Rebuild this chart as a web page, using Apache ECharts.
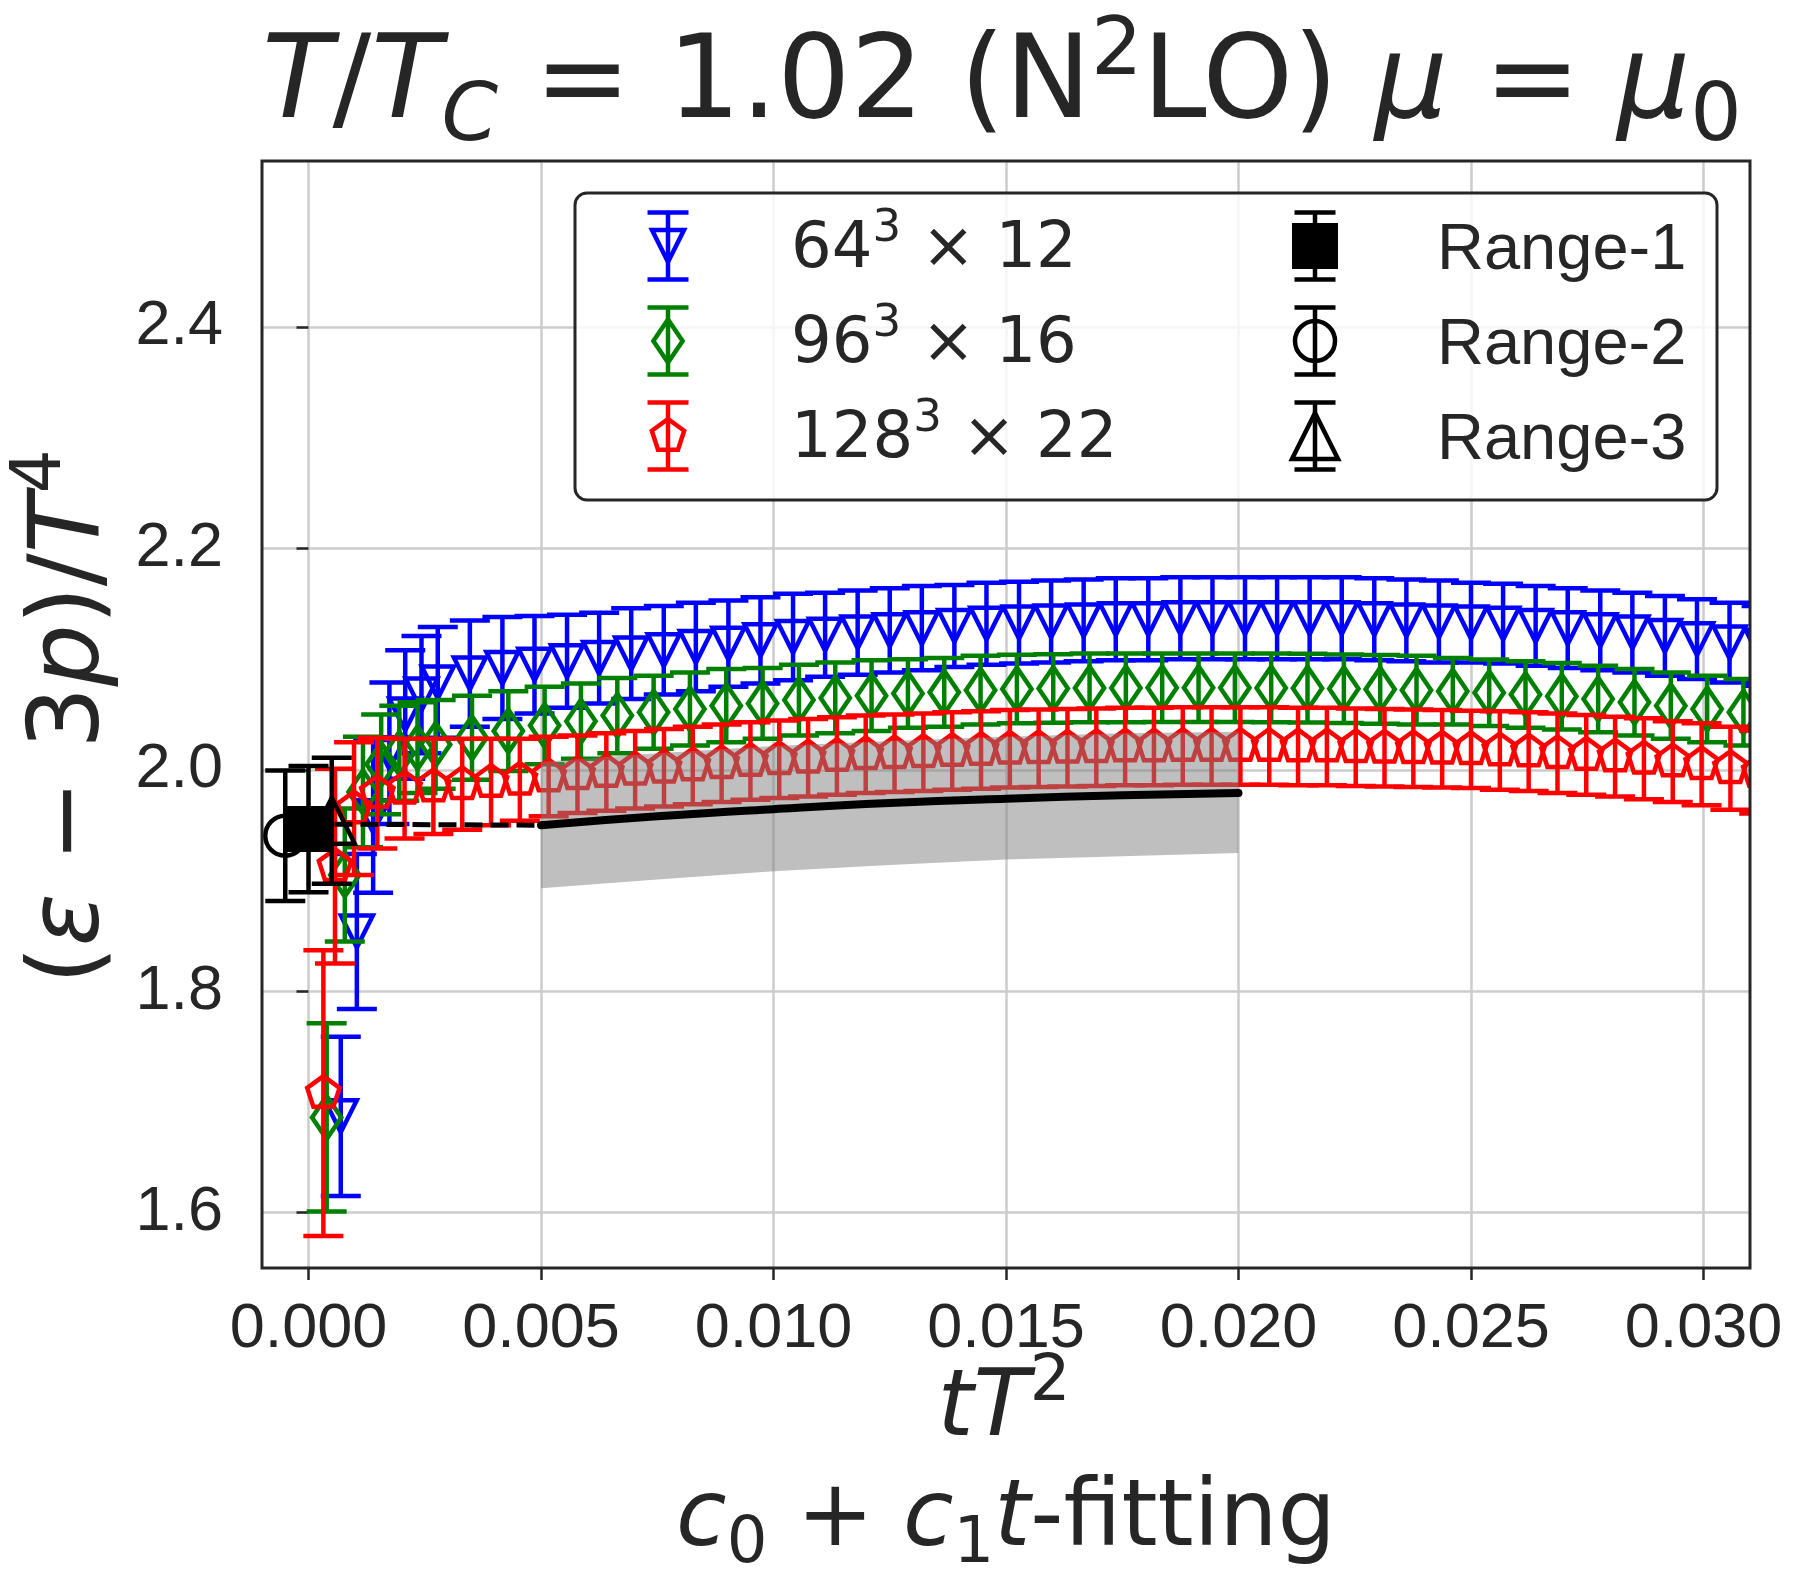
<!DOCTYPE html>
<html><head><meta charset="utf-8">
<script src="https://cdn.jsdelivr.net/npm/echarts@6/dist/echarts.min.js"></script>
<style>html,body{margin:0;padding:0;background:#fff}#chart{width:1803px;height:1589px}</style>
</head><body><div id="chart"></div>
<script>
// ---------------- data ----------------
const xTicks = [0.000, 0.005, 0.010, 0.015, 0.020, 0.025, 0.030];
const yTicks = [1.6, 1.8, 2.0, 2.2, 2.4];

// 64^3 x 12
const blueX = [0.000694, 0.00104, 0.00139, 0.00174, 0.00208, 0.00243, 0.00278,
  0.00347, 0.00417, 0.00486, 0.00556, 0.00625, 0.00694, 0.00764, 0.00833, 0.00903, 0.00972,
  0.01042, 0.01111, 0.01181, 0.01250, 0.01319, 0.01389, 0.01458, 0.01528, 0.01597, 0.01667,
  0.01736, 0.01806, 0.01875, 0.01944, 0.02014, 0.02083, 0.02153, 0.02222, 0.02292, 0.02361,
  0.02431, 0.02500, 0.02569, 0.02639, 0.02708, 0.02778, 0.02847, 0.02917, 0.02986, 0.03056, 0.03125];
const blueY = [1.687, 1.854, 1.958, 2.015, 2.050, 2.068, 2.079,
  2.087, 2.092, 2.095, 2.098, 2.101, 2.105, 2.108, 2.111, 2.114, 2.117,
  2.120, 2.122, 2.124, 2.126, 2.128, 2.130, 2.132, 2.133, 2.134, 2.135,
  2.136, 2.136, 2.137, 2.137, 2.137, 2.137, 2.137, 2.137, 2.136, 2.135,
  2.134, 2.133, 2.132, 2.130, 2.128, 2.126, 2.124, 2.121, 2.118, 2.115, 2.112];
const blueErr = [0.072, 0.070, 0.069, 0.064, 0.058, 0.053, 0.050,
  0.048, 0.046, 0.044, 0.042, 0.041, 0.041, 0.040, 0.040, 0.039, 0.039,
  0.039, 0.038, 0.038, 0.038, 0.038, 0.037, 0.037, 0.037, 0.037, 0.037,
  0.037, 0.037, 0.037, 0.037, 0.037, 0.037, 0.037, 0.037, 0.037, 0.037,
  0.037, 0.036, 0.036, 0.036, 0.036, 0.036, 0.036, 0.036, 0.036, 0.036, 0.036];

// 96^3 x 16
const greenX = [0.000391, 0.000781, 0.001172, 0.001563, 0.001953, 0.002344, 0.002734,
  0.003516, 0.004297, 0.005078, 0.005859, 0.006641, 0.007422, 0.008203, 0.008984, 0.009766,
  0.010547, 0.011328, 0.012109, 0.012891, 0.013672, 0.014453, 0.015234, 0.016016, 0.016797,
  0.017578, 0.018359, 0.019141, 0.019922, 0.020703, 0.021484, 0.022266, 0.023047, 0.023828,
  0.024609, 0.025391, 0.026172, 0.026953, 0.027734, 0.028516, 0.029297, 0.030078, 0.030859];
const greenY = [1.686, 1.905, 1.980, 2.005, 2.015, 2.020, 2.023,
  2.029, 2.035, 2.040, 2.044, 2.049, 2.052, 2.055, 2.058, 2.060,
  2.063, 2.065, 2.067, 2.069, 2.070, 2.072, 2.073, 2.0735, 2.074,
  2.074, 2.0742, 2.0742, 2.0742, 2.074, 2.0738, 2.0733, 2.0727, 2.072,
  2.071, 2.0697, 2.068, 2.0665, 2.064, 2.061, 2.058, 2.055, 2.052];
const greenErr = [0.085, 0.060, 0.050, 0.045, 0.043, 0.041, 0.040,
  0.038, 0.036, 0.035, 0.034, 0.034, 0.033, 0.033, 0.033, 0.032,
  0.032, 0.032, 0.032, 0.031, 0.031, 0.031, 0.031, 0.031, 0.031,
  0.031, 0.031, 0.031, 0.031, 0.031, 0.031, 0.031, 0.031, 0.031,
  0.030, 0.030, 0.030, 0.030, 0.030, 0.030, 0.030, 0.030, 0.030];

// 128^3 x 22
const redX = [0.00032, 0.00057, 0.00098, 0.00148,
  0.002066, 0.002686, 0.003306, 0.003926, 0.004545, 0.005165, 0.005785, 0.006405, 0.007025,
  0.007645, 0.008264, 0.008884, 0.009504, 0.010124, 0.010744, 0.011364, 0.011983, 0.012603,
  0.013223, 0.013843, 0.014463, 0.015083, 0.015702, 0.016322, 0.016942, 0.017562, 0.018182,
  0.018802, 0.019421, 0.020041, 0.020661, 0.021281, 0.021901, 0.022521, 0.023140, 0.023760,
  0.024380, 0.025000, 0.025620, 0.026240, 0.026860, 0.027479, 0.028099, 0.028719, 0.029339,
  0.029959, 0.030579, 0.031198];
const redY = [1.708, 1.913, 1.965, 1.979,
  1.983, 1.985, 1.987, 1.989, 1.991, 1.994, 1.996, 1.998, 2.000,
  2.002, 2.004, 2.006, 2.008, 2.0095, 2.011, 2.0125, 2.014, 2.015,
  2.016, 2.017, 2.018, 2.019, 2.0195, 2.020, 2.0205, 2.021, 2.021,
  2.0215, 2.0215, 2.0215, 2.0215, 2.021, 2.021, 2.0205, 2.020, 2.0195,
  2.019, 2.0185, 2.0175, 2.0165, 2.015, 2.0135, 2.012, 2.010, 2.0075,
  2.005, 2.0015, 1.998];
const redErr = [0.129, 0.088, 0.060, 0.050,
  0.045, 0.043, 0.041, 0.039, 0.037, 0.036, 0.035, 0.035, 0.035,
  0.035, 0.035, 0.035, 0.035, 0.035, 0.035, 0.035, 0.035, 0.035,
  0.035, 0.035, 0.035, 0.035, 0.035, 0.035, 0.035, 0.035, 0.035,
  0.035, 0.035, 0.035, 0.035, 0.035, 0.035, 0.035, 0.035, 0.035,
  0.035, 0.035, 0.0355, 0.0355, 0.036, 0.036, 0.036, 0.0365, 0.0365,
  0.037, 0.0375, 0.0375];

// extrapolated results (Range-1, Range-2, Range-3)
const rangeX = [0.0, -0.0005, 0.0005];
const rangeY = [1.9465, 1.9405, 1.954];
const rangeErr = [0.057, 0.059, 0.057];

// fit curve and its band
const fitX  = [0.005, 0.0075, 0.010, 0.0125, 0.015, 0.0175, 0.020];
const fitY  = [1.950, 1.958, 1.9645, 1.970, 1.974, 1.977, 1.979];
const fitLo = [1.893, 1.901, 1.9085, 1.914, 1.919, 1.922, 1.925];
const fitHi = [2.007, 2.015, 2.0215, 2.026, 2.030, 2.033, 2.0345];
const dashX = [0.0, 0.005];
const dashY = [1.951, 1.950];

// ---------------- drawing ----------------
const X_MIN = -0.001, X_MAX = 0.031, Y_MIN = 1.55, Y_MAX = 2.55;
const INK = '#262626';
const DV = 'DejaVu Sans';
const LS = 'Liberation Sans, Arial, sans-serif';
const MID = 0.31; // canvas 'middle' baseline offset above alphabetic baseline, fraction of font size
const LW = 4.5;

function marker(kind, cx, cy, color, s) {
  const st = {fill: 'none', stroke: color, lineWidth: LW, lineJoin: 'miter'};
  if (kind === 'v') { const h = s / 2; return {type: 'polygon', shape: {points: [[cx - h, cy - h], [cx + h, cy - h], [cx, cy + h]]}, style: st}; }
  if (kind === '^') { const h = s / 2; return {type: 'polygon', shape: {points: [[cx, cy - h], [cx + h, cy + h], [cx - h, cy + h]]}, style: st}; }
  if (kind === 'd') { const w = s * 0.34, h = s / 2; return {type: 'polygon', shape: {points: [[cx, cy - h], [cx + w, cy], [cx, cy + h], [cx - w, cy]]}, style: st}; }
  if (kind === 'p') { const r = s / 2; const pts = []; for (let k = 0; k < 5; k++) { const a = -Math.PI / 2 + k * 2 * Math.PI / 5; pts.push([cx + r * Math.cos(a), cy + r * Math.sin(a)]); } return {type: 'polygon', shape: {points: pts}, style: st}; }
  if (kind === 'o') return {type: 'circle', shape: {cx: cx, cy: cy, r: s / 2}, style: st};
  if (kind === 's') return {type: 'rect', shape: {x: cx - s / 2, y: cy - s / 2, width: s, height: s}, style: {fill: color, stroke: color, lineWidth: 2}};
}

function errGroup(cx, cyTop, cyBot, cy, color, kind, s, capHalf, lw) {
  const ls = {stroke: color, lineWidth: lw};
  return {type: 'group', children: [
    {type: 'line', shape: {x1: cx, y1: cyTop, x2: cx, y2: cyBot}, style: ls},
    {type: 'line', shape: {x1: cx - capHalf, y1: cyTop, x2: cx + capHalf, y2: cyTop}, style: ls},
    {type: 'line', shape: {x1: cx - capHalf, y1: cyBot, x2: cx + capHalf, y2: cyBot}, style: ls},
    marker(kind, cx, cy, color, s)
  ]};
}

function errSeries(name, xs, ys, es, color, kind, s, capHalf, lw, z) {
  return {
    type: 'custom', name: name, z: z, clip: true,
    data: xs.map((x, i) => [x, ys[i], es[i]]),
    encode: {x: 0, y: 1},
    renderItem: function (params, api) {
      const x = api.value(0), y = api.value(1), e = api.value(2);
      const c = api.coord([x, y]), t = api.coord([x, y + e]), b = api.coord([x, y - e]);
      return errGroup(c[0], t[1], b[1], c[1], color, kind, s, capHalf, lw);
    }
  };
}

// rich text with super/subscripts: every token top aligned, shifted by top padding
function mathRich(S, font, color, supD, subD, Q) {
  const s = Math.round(S * 0.7);
  const k = (S - s) * (0.5 + MID);
  const base = {fontSize: S, verticalAlign: 'top', padding: [Q, 0, 0, 0], fill: color};
  const scr = (d) => ({fontSize: s, verticalAlign: 'top', padding: [Math.max(0, Q + k + d), 0, 0, 0], fill: color});
  return {
    r: Object.assign({fontFamily: font}, base),
    i: Object.assign({fontFamily: DV, fontStyle: 'italic'}, base),
    sup: Object.assign({fontFamily: font}, scr(supD)),
    sub: Object.assign({fontFamily: font}, scr(subD)),
    subi: Object.assign({fontFamily: DV, fontStyle: 'italic'}, scr(subD))
  };
}
function mathTop(base, S, Q) { return base - Q - S / 2 - MID * S; }
function mathText(x, base, S, Q, text, rich, align) {
  return {type: 'text', x: x, y: mathTop(base, S, Q), z: 100,
    style: {text: text, rich: rich, align: align || 'center', verticalAlign: 'top'}};
}
function setZ(el, z) { el.z = z; if (el.children) el.children.forEach(c => setZ(c, z)); return el; }

const chart = echarts.init(document.getElementById('chart'), null, {renderer: 'canvas'});

// legend
const LG = {x: 575, y: 193, w: 1142, h: 307};
const rowBase = [270, 365, 460];
const legendItems = [];
legendItems.push({type: 'rect', z: 90, shape: {x: LG.x, y: LG.y, width: LG.w, height: LG.h, r: 12},
  style: {fill: 'rgba(255,255,255,0.8)', stroke: INK, lineWidth: 3}});
const col1 = [['#0000ff', 'v', 32, '64', '3', ' × 12'], ['#008000', 'd', 43, '96', '3', ' × 16'], ['#ff0000', 'p', 34, '128', '3', ' × 22']];
const col2 = [['s', 44, 'Range-1'], ['o', 40, 'Range-2'], ['^', 46, 'Range-3']];
const LQ = 20;
const legRich = mathRich(64, DV, INK, -27, 0, LQ);
col1.forEach((it, k) => {
  const cy = rowBase[k] - 24;
  legendItems.push(setZ(errGroup(668, cy - 33.5, cy + 33.5, cy, it[0], it[1], it[2], 20.5, LW), 95));
  legendItems.push(mathText(791, rowBase[k], 64, LQ, '{r|' + it[3] + '}{sup|' + it[4] + '}{r|' + it[5] + '}', legRich, 'left'));
});
col2.forEach((it, k) => {
  const cy = rowBase[k] - 24;
  legendItems.push(setZ(errGroup(1315, cy - 33.5, cy + 33.5, cy, '#000000', it[0], it[1], 20.5, LW), 95));
  legendItems.push({type: 'text', x: 1437, y: rowBase[k] - (32 + MID * 64), z: 100,
    style: {text: it[2], fontFamily: LS, fontSize: 65, fill: INK, align: 'left', verticalAlign: 'top'}});
});

const TQ = 30, YQ = 25, XQ = 25;
const titleRich = mathRich(115, DV, INK, -45, 21, TQ);
const ylRich = mathRich(98, DV, INK, -40, 0, YQ);
const xlRich = mathRich(92, DV, INK, -37, 15, XQ);

const option = {
  animation: false,
  backgroundColor: '#ffffff',
  grid: {left: 262, right: 53, top: 161, bottom: 321, show: true, borderColor: INK, borderWidth: 3, backgroundColor: 'transparent', z: 50},
  xAxis: {
    type: 'value', min: X_MIN, max: X_MAX,
    axisLine: {show: false},
    axisTick: {show: true, customValues: xTicks, length: 12, lineStyle: {color: INK, width: 2.5}},
    axisLabel: {customValues: xTicks, formatter: v => v.toFixed(3), fontFamily: LS, fontSize: 63, color: INK, margin: 30},
    splitLine: {show: true, lineStyle: {color: '#cccccc', width: 2.5}}
  },
  yAxis: {
    type: 'value', min: Y_MIN, max: Y_MAX,
    axisLine: {show: false},
    axisTick: {show: true, customValues: yTicks, length: 12, lineStyle: {color: INK, width: 2.5}},
    axisLabel: {customValues: yTicks, formatter: v => v.toFixed(1), fontFamily: LS, fontSize: 63, color: INK, margin: 39},
    splitLine: {show: true, lineStyle: {color: '#cccccc', width: 2.5}}
  },
  series: [
    errSeries('64^3 x 12', blueX, blueY, blueErr, '#0000ff', 'v', 32, 20, LW, 3),
    errSeries('96^3 x 16', greenX, greenY, greenErr, '#008000', 'd', 43, 20, LW, 4),
    errSeries('128^3 x 22', redX, redY, redErr, '#ff0000', 'p', 34, 20, LW, 5),
    {
      type: 'custom', name: 'band', z: 6, clip: true,
      data: fitX.map((x, i) => [x, fitLo[i], fitHi[i]]),
      encode: {x: 0, y: 1},
      renderItem: function (params, api) {
        if (params.dataIndex !== 0) return null;
        const pts = [];
        for (let i = 0; i < fitX.length; i++) pts.push(api.coord([fitX[i], fitHi[i]]));
        for (let i = fitX.length - 1; i >= 0; i--) pts.push(api.coord([fitX[i], fitLo[i]]));
        return {type: 'polygon', shape: {points: pts}, style: {fill: 'rgba(128,128,128,0.5)'}};
      }
    },
    {type: 'line', name: 'fit', z: 7, data: fitX.map((x, i) => [x, fitY[i]]), smooth: true, showSymbol: false,
      lineStyle: {color: '#000000', width: 8, cap: 'round'}},
    {type: 'line', name: 'extrap', z: 7, data: dashX.map((x, i) => [x, dashY[i]]), showSymbol: false,
      lineStyle: {color: '#000000', width: 5, type: [18, 8]}},
    errSeries('Range-2', [rangeX[1]], [rangeY[1]], [rangeErr[1]], '#000000', 'o', 40, 20, LW, 8),
    errSeries('Range-1', [rangeX[0]], [rangeY[0]], [rangeErr[0]], '#000000', 's', 44, 20, LW, 9),
    errSeries('Range-3', [rangeX[2]], [rangeY[2]], [rangeErr[2]], '#000000', '^', 46, 20, LW, 10)
  ],
  graphic: [
    mathText(1002, 123, 115, TQ, '{i|T}{r|/}{i|T}{subi|C}{r| = 1.02 (N}{sup|2}{r|LO) }{i|μ}{r| = }{i|μ}{sub|0}', titleRich),
    mathText(1004, 1440, 92, XQ, '{i|tT}{sup|2}', xlRich),
    mathText(1006, 1550, 92, XQ, '{i|c}{sub|0}{r| + }{i|c}{sub|1}{i|t}{r|-fitting}', xlRich),
    {type: 'group', x: 103 - (YQ + 49 + MID * 98), y: 717, rotation: Math.PI / 2, z: 100, children: [
      {type: 'text', x: 0, y: 0, z: 100, style: {text: '{r|(}{i|ε}{r| − 3}{i|p}{r|)/}{i|T}{sup|4}', rich: ylRich, align: 'center', verticalAlign: 'top'}}
    ]},
    {type: 'group', children: legendItems}
  ]
};
chart.setOption(option);
</script>
</body></html>
